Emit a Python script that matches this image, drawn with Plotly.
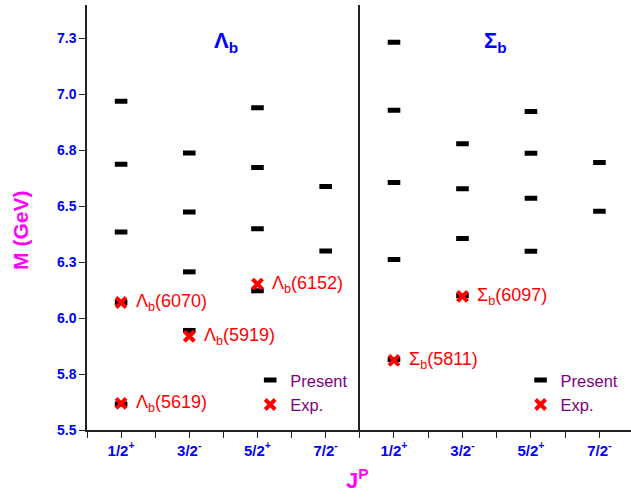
import numpy as np
import plotly.graph_objects as go

# ---------------- data ----------------
jp_labels = ["1/2<sup>+</sup>", "3/2<sup>-</sup>", "5/2<sup>+</sup>", "7/2<sup>-</sup>"]
jp_pos = [1, 2, 3, 4]

# Lambda_b present (GeV)
lam_12p = [5.616, 6.070, 6.385, 6.688, 6.970]
lam_32m = [5.945, 6.207, 6.475, 6.738]
lam_52p = [6.122, 6.400, 6.673, 6.941]
lam_72m = [6.300, 6.589]

# Sigma_b present (GeV)
sig_12p = [5.815, 6.262, 6.606, 6.929, 7.234]
sig_32m = [6.100, 6.356, 6.579, 6.780]
sig_52p = [6.299, 6.536, 6.737, 6.924]
sig_72m = [6.478, 6.696]

# Experimental states
lam_exp_jp = [1, 1, 2, 3]
lam_exp_mass = [5.619, 6.070, 5.919, 6.152]
lam_exp_names = ["Λ<sub>b</sub>(5619)", "Λ<sub>b</sub>(6070)", "Λ<sub>b</sub>(5919)", "Λ<sub>b</sub>(6152)"]

sig_exp_jp = [1, 2]
sig_exp_mass = [5.811, 6.097]
sig_exp_names = ["Σ<sub>b</sub>(5811)", "Σ<sub>b</sub>(6097)"]

ytick_vals = [5.5, 5.75, 6.0, 6.25, 6.5, 6.75, 7.0, 7.25]
ytick_text = ["5.5", "5.8", "6.0", "6.3", "6.5", "6.8", "7.0", "7.3"]

# ---------------- helpers ----------------
def flatten(cols):
    xs, ys = [], []
    for p, vals in zip(jp_pos, cols):
        xs += [p] * len(vals)
        ys += vals
    return xs, ys

lam_x, lam_y = flatten([lam_12p, lam_32m, lam_52p, lam_72m])
sig_x, sig_y = flatten([sig_12p, sig_32m, sig_52p, sig_72m])

FONT = "Arial, Liberation Sans, sans-serif"
BLUE = "#0000ff"
MAG = "#ff00ff"
PURP = "#800080"
LINE = "#222222"

present_marker = dict(symbol="line-ew", size=9, color="black", line=dict(width=5, color="black"))
exp_marker = dict(symbol="x-thin", size=10, color="red", line=dict(width=4, color="red"))

fig = go.Figure()
fig.add_trace(go.Scatter(x=lam_x, y=lam_y, mode="markers", marker=present_marker,
                         name="Present", xaxis="x", yaxis="y", legend="legend"))
fig.add_trace(go.Scatter(x=lam_exp_jp, y=lam_exp_mass, mode="markers", marker=exp_marker,
                         name="Exp.", xaxis="x", yaxis="y", legend="legend"))
fig.add_trace(go.Scatter(x=sig_x, y=sig_y, mode="markers", marker=present_marker,
                         name="Present", xaxis="x2", yaxis="y2", legend="legend2"))
fig.add_trace(go.Scatter(x=sig_exp_jp, y=sig_exp_mass, mode="markers", marker=exp_marker,
                         name="Exp.", xaxis="x2", yaxis="y2", legend="legend2"))

# annotations for experimental states
anns = []
for xv, yv, t in zip(lam_exp_jp, lam_exp_mass, lam_exp_names):
    anns.append(dict(x=xv, y=yv, xref="x", yref="y", text=t, showarrow=False,
                     xanchor="left", yanchor="middle", xshift=13,
                     font=dict(family=FONT, size=18, color="red")))
for xv, yv, t in zip(sig_exp_jp, sig_exp_mass, sig_exp_names):
    anns.append(dict(x=xv, y=yv, xref="x2", yref="y2", text=t, showarrow=False,
                     xanchor="left", yanchor="middle", xshift=13,
                     font=dict(family=FONT, size=18, color="red")))

# panel titles
anns.append(dict(x=0.51, y=0.913, xref="x domain", yref="y domain", text="<b>Λ<sub>b</sub></b>",
                 xanchor="center", yanchor="middle",
                 showarrow=False, font=dict(family=FONT, size=22, color=BLUE)))
anns.append(dict(x=0.5, y=0.913, xref="x2 domain", yref="y2 domain", text="<b>Σ<sub>b</sub></b>",
                 xanchor="center", yanchor="middle",
                 showarrow=False, font=dict(family=FONT, size=22, color=BLUE)))
# axis titles
anns.append(dict(x=-0.122, y=0.47, xref="paper", yref="paper", text="<b>M (GeV)</b>",
                 xanchor="center", yanchor="middle",
                 textangle=-90, showarrow=False, font=dict(family=FONT, size=21, color=MAG)))
anns.append(dict(x=0.497, y=-0.115, xref="paper", yref="paper", text="<b>J<sup>P</sup></b>",
                 xanchor="center", yanchor="middle",
                 showarrow=False, font=dict(family=FONT, size=22, color=MAG)))

split = (359.5 - 86.5) / (631 - 86.5)
xr_left = [0.5, 4.5]
xr_right = [0.5, 4.461]
yr = [5.5, 7.4]

xtick_vals = list(np.arange(0.5, 4.51, 0.5))
xtick_text = []
for v in xtick_vals:
    if abs(v - round(v)) < 1e-9:
        xtick_text.append("<b>" + jp_labels[int(round(v)) - 1] + "</b>")
    else:
        xtick_text.append("")
top_ticks = list(np.arange(0.5, 4.51, 1 / 3))

common_x = dict(showgrid=False, zeroline=False, showline=True, linecolor=LINE, linewidth=1.5,
                ticks="outside", ticklen=6, tickwidth=1.2, tickcolor=LINE,
                tickfont=dict(family=FONT, size=15, color=BLUE))
top_x = dict(showgrid=False, zeroline=False, showline=True, linecolor=LINE, linewidth=1.5,
             ticks="inside", ticklen=6, tickwidth=1.2, tickcolor=LINE, showticklabels=False,
             side="top", tickmode="array", tickvals=top_ticks)

fig.update_layout(
    width=631, height=498,
    margin=dict(l=86.5, r=0, t=5, b=68),
    paper_bgcolor="white", plot_bgcolor="white",
    xaxis=dict(domain=[0, split], range=xr_left, anchor="y", tickmode="array",
               tickvals=xtick_vals, ticktext=xtick_text, **common_x),
    xaxis2=dict(domain=[split, 1], range=xr_right, anchor="y2", tickmode="array",
                tickvals=xtick_vals, ticktext=xtick_text, **common_x),
    xaxis3=dict(overlaying="x", anchor="y", range=xr_left, **top_x),
    xaxis4=dict(overlaying="x2", anchor="y2", range=xr_right, **top_x),
    yaxis=dict(domain=[0, 1], range=yr, anchor="x", tickmode="array", tickvals=ytick_vals,
               ticktext=["<b>" + t + "</b>" for t in ytick_text],
               showgrid=False, zeroline=False, showline=True, linecolor=LINE, linewidth=1.5,
               ticks="outside", ticklen=6, tickwidth=1.2, tickcolor=LINE,
               tickfont=dict(family=FONT, size=14, color=BLUE)),
    yaxis3=dict(overlaying="y", anchor="x", side="right", range=yr, tickmode="array",
                tickvals=ytick_vals, showticklabels=False, showgrid=False, zeroline=False,
                showline=True, linecolor=LINE, linewidth=1.5, ticks="inside", ticklen=5,
                tickwidth=1.2, tickcolor=LINE),
    yaxis2=dict(domain=[0, 1], range=yr, anchor="x2", showticklabels=False, showgrid=False,
                zeroline=False, showline=True, linecolor=LINE, linewidth=1.5, ticks=""),
    yaxis4=dict(overlaying="y2", anchor="x2", side="right", range=yr, tickmode="array",
                tickvals=list(np.linspace(5.5, 7.4, 8)), showticklabels=False, showgrid=False,
                zeroline=False, showline=False, ticks="inside", ticklen=5, tickwidth=1.2,
                tickcolor=LINE),
    legend=dict(x=0.30, y=0.158, xanchor="left", yanchor="top", bgcolor="rgba(0,0,0,0)",
                font=dict(family=FONT, size=16.5, color=PURP), tracegroupgap=0),
    legend2=dict(x=0.797, y=0.158, xanchor="left", yanchor="top", bgcolor="rgba(0,0,0,0)",
                 font=dict(family=FONT, size=16.5, color=PURP), tracegroupgap=0),
    annotations=anns,
    showlegend=True,
)

fig.write_html("out.html", config={"displayModeBar": False},
               post_script="document.body.style.margin='0';document.body.style.overflow='hidden';")
